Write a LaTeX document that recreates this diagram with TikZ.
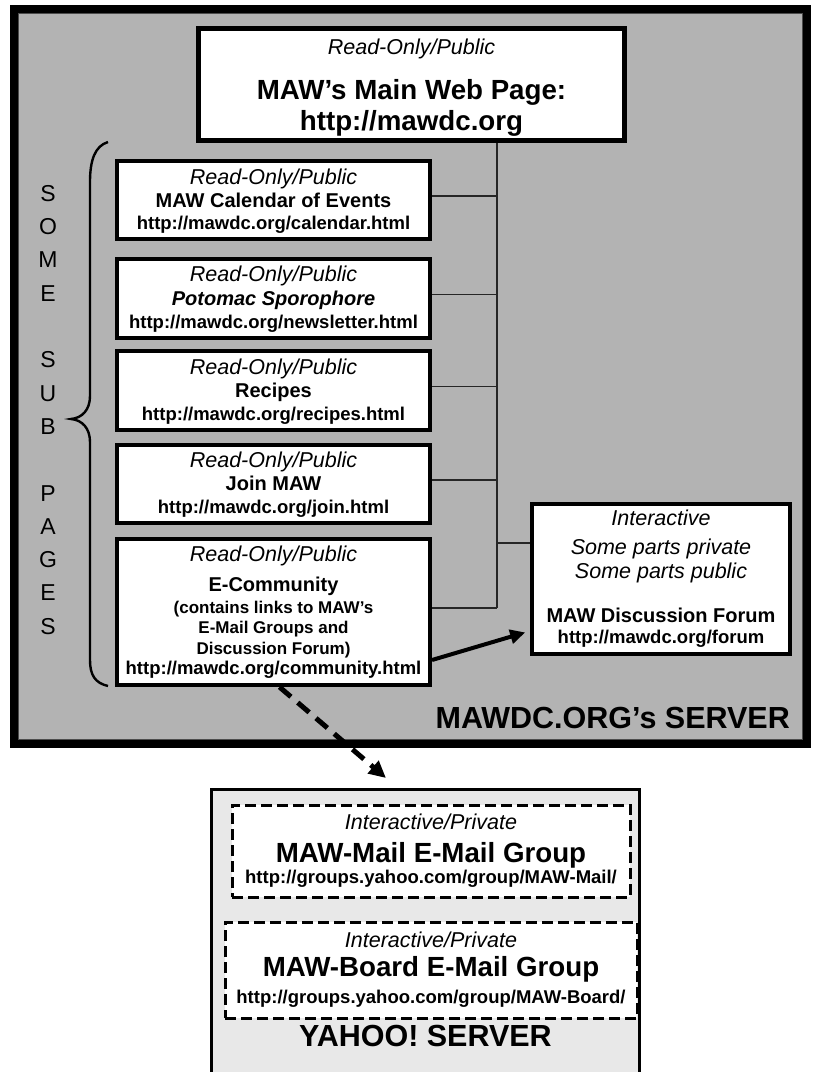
\documentclass[tikz,border=0pt]{standalone}
\usepackage{fontspec}
\setmainfont{Liberation Sans}
\usetikzlibrary{arrows.meta,calc}
\definecolor{servergray}{RGB}{179,179,179}
\definecolor{yahoogray}{RGB}{232,232,232}
\tikzset{
  pagebox/.style={draw=black, line width=4pt, fill=white, inner sep=0pt, minimum width=313pt},
  itx/.style={inner sep=0pt, text height=15.5pt, text depth=0pt, font=\fontsize{21.5}{24}\selectfont\itshape},
  bx/.style={inner sep=0pt, text height=14.4pt, text depth=0pt, font=\fontsize{20}{24}\selectfont\bfseries},
  ux/.style={inner sep=0pt, text height=13.3pt, text depth=0pt, font=\fontsize{18.5}{22}\selectfont\bfseries},
  sx/.style={inner sep=0pt, text height=12.2pt, text depth=0pt, font=\fontsize{17}{20}\selectfont\bfseries},
  bigx/.style={inner sep=0pt, text height=19.9pt, text depth=0pt, font=\fontsize{27.7}{32}\selectfont\bfseries},
  srvx/.style={inner sep=0pt, text height=22pt, text depth=0pt, font=\fontsize{30.5}{36}\selectfont\bfseries},
  sidel/.style={inner sep=0pt, text height=16.6pt, text depth=0pt, font=\fontsize{23}{28}\selectfont},
  link/.style={draw=black!85, line width=1.2pt},
  dashbox/.style={draw=black, line width=3pt, dash pattern=on 11pt off 5pt, fill=white, inner sep=0pt},
}
\begin{document}
\begin{tikzpicture}[x=1pt,y=-1pt]
\useasboundingbox (0,0) rectangle (814,1072);
\fill[white] (0,0) rectangle (814,1072);

% MAWDC server container
\draw[line width=8pt, fill=servergray] (14,9) rectangle (807,744);
\draw[line width=0.8pt, black!70] (18.5,13.5) rectangle (802.5,739.5);

% main page
\node[pagebox, line width=4.5pt, minimum width=426pt, minimum height=112pt] (main) at (411.5,84.5) {};
\node[itx]  (main1) at (411.5,47)  {Read-Only/Public};
\node[bigx] (main2) at (411.5,90)  {MAW’s Main Web Page:};
\node[bigx] (main3) at (411.5,121) {http://mawdc.org};

% sub pages
\node[pagebox, minimum height=78pt] (cal) at (273.5,200) {};
\node[itx] (cal1) at (273.5,177) {Read-Only/Public};
\node[bx]  (cal2) at (273.5,200) {MAW Calendar of Events};
\node[ux]  (cal3) at (273.5,223) {http://mawdc.org/calendar.html};

\node[pagebox, minimum height=79pt] (spo) at (273.5,298.5) {};
\node[itx] (spo1) at (273.5,274) {Read-Only/Public};
\node[bx]  (spo2) at (273.5,298) {\itshape Potomac Sporophore};
\node[ux]  (spo3) at (273.5,322) {http://mawdc.org/newsletter.html};

\node[pagebox, minimum height=79pt] (rec) at (273.5,390.5) {};
\node[itx] (rec1) at (273.5,367) {Read-Only/Public};
\node[bx]  (rec2) at (273.5,390.5) {Recipes};
\node[ux]  (rec3) at (273.5,414) {http://mawdc.org/recipes.html};

\node[pagebox, minimum height=78pt] (join) at (273.5,484) {};
\node[itx] (join1) at (273.5,460) {Read-Only/Public};
\node[bx]  (join2) at (273.5,483) {Join MAW};
\node[ux]  (join3) at (273.5,507) {http://mawdc.org/join.html};

\node[pagebox, minimum height=146pt] (ecom) at (273.5,612) {};
\node[itx] (ecom1) at (273.5,554) {Read-Only/Public};
\node[bx]  (ecom2) at (273.5,584) {E-Community};
\node[sx]  (ecom3) at (273.5,607) {(contains links to MAW’s};
\node[sx]  (ecom4) at (273.5,627) {E-Mail Groups and};
\node[sx]  (ecom5) at (273.5,648) {Discussion Forum)};
\node[ux]  (ecom6) at (273.5,668) {http://mawdc.org/community.html};

% forum
\node[pagebox, minimum width=258pt, minimum height=150pt] (forum) at (661,579) {};
\node[itx] (for1) at (661,518) {Interactive};
\node[itx] (for2) at (661,547) {Some parts private};
\node[itx] (for3) at (661,571) {Some parts public};
\node[bx]  (for4) at (661,615) {MAW Discussion Forum};
\node[ux]  (for5) at (661,637) {http://mawdc.org/forum};

% server label
\node[srvx, anchor=east] (srvlabel) at (790,717) {MAWDC.ORG’s SERVER};

% side label
\foreach \l/\y [count=\i] in {S/193,O/226.3,M/259.6,E/292.9,S/359.5,U/392.8,B/426.1,P/492.7,A/526,G/559.3,E/592.6,S/625.9}
  \node[sidel] (side\i) at (48,\y) {\l};

% brace
\draw[line width=2.4pt] (108,142) .. controls (95,146) and (90,160) .. (90,182)
  -- (90,396) .. controls (90,410) and (82,418) .. (71,419)
  .. controls (82,420) and (90,428) .. (90,442)
  -- (90,660) .. controls (90,675) and (95,683) .. (108,686);

% connectors tree
\coordinate (tt) at (497,141);
\coordinate (bcal) at ([yshift=4pt]cal.east);
\coordinate (bspo) at ([yshift=4pt]spo.east);
\coordinate (brec) at ([yshift=4pt]rec.east);
\coordinate (bjoin) at ([yshift=4pt]join.east);
\coordinate (becom) at ([yshift=4pt]ecom.east);
\coordinate (bfor) at ([yshift=36pt]forum.west);
\draw[link] (main.south -| tt) -- (tt |- becom);
\draw[link] (bcal) -- (bcal -| tt);
\draw[link] (bspo) -- (bspo -| tt);
\draw[link] (brec) -- (brec -| tt);
\draw[link] (bjoin) -- (bjoin -| tt);
\draw[link] (becom) -- (becom -| tt);
\draw[link] (bfor -| tt) -- (bfor);

% solid arrow to forum
\draw[line width=4pt, -{Triangle[length=15pt,width=14pt]}, shorten >=5pt]
  ([yshift=-48pt]ecom.east) -- ([yshift=-52pt]forum.west);

% Yahoo server
\node[draw=black, line width=3pt, fill=yahoogray, inner sep=0pt,
      minimum width=428pt, minimum height=290pt] (yahoo) at (425.5,934.5) {};
\node[dashbox, minimum width=398pt, minimum height=92pt] (mail) at (431,851) {};
\node[itx]  (mail1) at (431,822) {Interactive/Private};
\node[bigx] (mail2) at (431,853) {MAW-Mail E-Mail Group};
\node[ux]   (mail3) at (431,877) {http://groups.yahoo.com/group/MAW-Mail/};
\node[dashbox, minimum width=412pt, minimum height=96pt] (board) at (431,970) {};
\node[itx]  (board1) at (431,940) {Interactive/Private};
\node[bigx] (board2) at (431,967) {MAW-Board E-Mail Group};
\node[ux]   (board3) at (431,997) {http://groups.yahoo.com/group/MAW-Board/};
\node[srvx] (ylabel) at (425.5,1035) {YAHOO! SERVER};

% dashed arrow to Yahoo
\coordinate (dtip) at (386,778);
\draw[line width=5pt, dash pattern=on 15pt off 9pt, -{Triangle[length=17pt,width=16pt]}]
  ([xshift=6pt]ecom.south) -- (dtip);
\end{tikzpicture}
\end{document}
